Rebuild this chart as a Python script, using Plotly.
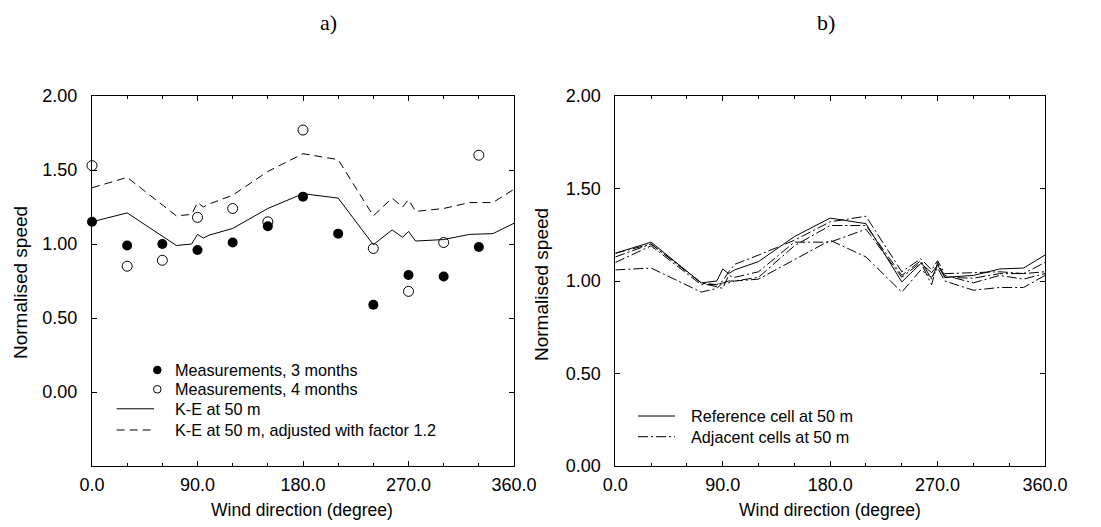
import plotly.graph_objects as go

# ---- data ----
MEAS_DIR = [0, 30, 60, 90, 120, 150, 180, 210, 240, 270, 300, 330]
MEAS_3M = [1.15, 0.99, 1.00, 0.96, 1.01, 1.12, 1.32, 1.07, 0.59, 0.79, 0.78, 0.98]
MEAS_4M_DIR = [0, 30, 60, 90, 120, 150, 180, 240, 270, 300, 330]
MEAS_4M = [1.53, 0.85, 0.89, 1.18, 1.24, 1.15, 1.77, 0.97, 0.68, 1.01, 1.60]

KE_DIR = [0, 30, 72, 85, 90, 95, 100, 120, 150, 180, 210, 240, 256, 265, 270, 276, 300, 322, 342, 360]
KE_50 = [1.15, 1.21, 0.99, 1.00, 1.065, 1.04, 1.06, 1.105, 1.24, 1.34, 1.31, 0.995, 1.095, 1.045, 1.085, 1.02, 1.03, 1.065, 1.07, 1.14]
KE_50_ADJ = [1.38, 1.45, 1.19, 1.20, 1.28, 1.25, 1.27, 1.33, 1.49, 1.61, 1.57, 1.19, 1.31, 1.25, 1.30, 1.22, 1.24, 1.28, 1.28, 1.37]

ADJ_A = [1.15, 1.20, 0.99, 0.98, 1.00, 1.05, 1.09, 1.14, 1.22, 1.32, 1.35, 1.05, 1.12, 1.06, 1.11, 1.04, 1.045, 1.05, 1.04, 1.10]
ADJ_B = [1.13, 1.20, 0.99, 0.97, 0.96, 1.03, 1.02, 1.05, 1.21, 1.21, 1.28, 1.02, 1.10, 0.98, 1.10, 1.02, 1.015, 1.04, 1.04, 1.05]
ADJ_C = [1.10, 1.19, 0.98, 0.98, 0.99, 1.00, 1.00, 1.02, 1.19, 1.30, 1.30, 1.03, 1.11, 1.01, 1.09, 1.03, 0.99, 1.03, 1.01, 1.04]
ADJ_D = [1.06, 1.07, 0.94, 0.96, 0.99, 0.99, 1.00, 1.01, 1.115, 1.22, 1.13, 0.94, 1.06, 1.02, 1.07, 1.00, 0.95, 0.965, 0.965, 1.03]
ADJACENT = [ADJ_A, ADJ_B, ADJ_C, ADJ_D]

X_TICKS = [0, 90, 180, 270, 360]
Y_TICKS = [0.0, 0.5, 1.0, 1.5, 2.0]

W, H = 1101, 527
SANS = "Liberation Sans, Arial, sans-serif"
DASH = "8px,5px"
DASHDOT = "10px,3px,2px,3px"

fig = go.Figure()

# panel a
fig.add_trace(go.Scatter(x=KE_DIR, y=KE_50, mode="lines", line=dict(color="black", width=1),
                         xaxis="x", yaxis="y", showlegend=False))
fig.add_trace(go.Scatter(x=KE_DIR, y=KE_50_ADJ, mode="lines", line=dict(color="black", width=1, dash=DASH),
                         xaxis="x", yaxis="y", showlegend=False))
fig.add_trace(go.Scatter(x=MEAS_DIR, y=MEAS_3M, mode="markers", cliponaxis=False,
                         marker=dict(symbol="circle", size=10, color="black"),
                         xaxis="x", yaxis="y", showlegend=False))
fig.add_trace(go.Scatter(x=MEAS_4M_DIR, y=MEAS_4M, mode="markers", cliponaxis=False,
                         marker=dict(symbol="circle-open", size=10, color="black", line=dict(width=1)),
                         xaxis="x", yaxis="y", showlegend=False))

# panel b
for series in ADJACENT:
    fig.add_trace(go.Scatter(x=KE_DIR, y=series, mode="lines",
                             line=dict(color="black", width=1, dash=DASHDOT),
                             xaxis="x2", yaxis="y2", showlegend=False))
fig.add_trace(go.Scatter(x=KE_DIR, y=KE_50, mode="lines", line=dict(color="black", width=1),
                         xaxis="x2", yaxis="y2", showlegend=False))

common_x = dict(range=[0, 360], tickvals=X_TICKS, tickformat=".1f", ticks="inside", ticklen=5,
                tickcolor="black", showline=True, linecolor="black", linewidth=1, mirror="ticks",
                showgrid=False, zeroline=False, automargin=False,
                tickfont=dict(family=SANS, size=18, color="black"),
                minor=dict(dtick=30, ticks="inside", ticklen=3, tickcolor="black", showgrid=False),
                ticklabelstandoff=2)
common_y = dict(tickvals=Y_TICKS, tickformat=".2f", ticks="inside", ticklen=5, tickcolor="black",
                showline=True, linecolor="black", linewidth=1, mirror="ticks", showgrid=False,
                zeroline=False, automargin=False,
                tickfont=dict(family=SANS, size=18, color="black"),
                ticklabelstandoff=10)

y_dom = [1 - 466 / H, 1 - 96 / H]
fig.update_layout(
    width=W, height=H, margin=dict(l=0, r=0, t=0, b=0, autoexpand=False),
    paper_bgcolor="white", plot_bgcolor="white",
    xaxis=dict(domain=[92 / W, 514 / W], anchor="y", **common_x),
    yaxis=dict(domain=y_dom, range=[-0.5, 2.0], anchor="x", **common_y),
    xaxis2=dict(domain=[615.3 / W, 1045 / W], anchor="y2", **common_x),
    yaxis2=dict(domain=y_dom, range=[0, 2.0], anchor="x2", **common_y),
    showlegend=False,
)

annotations = []
shapes = []


def px(xp):
    return xp / W


def py(yp):
    return 1 - yp / H


def text(xp, yp, s, size, family=SANS, xanchor="center", angle=0):
    annotations.append(dict(x=px(xp), y=py(yp), xref="paper", yref="paper", text=s, showarrow=False,
                            xanchor=xanchor, yanchor="middle", textangle=angle,
                            font=dict(family=family, size=size, color="black")))


# panel labels
text(328, 22, "a)", 22, family="Liberation Serif, DejaVu Serif, serif")
text(826, 22, "b)", 22, family="Liberation Serif, DejaVu Serif, serif")

# axis titles
text(302, 510, "Wind direction (degree)", 17.5)
text(830, 510, "Wind direction (degree)", 17.5)
text(20, 283, "Normalised speed", 19, angle=-90)
text(541, 285, "Normalised speed", 19, angle=-90)

# legend, panel a
LEG_FONT = 16.2
legend_a = [("Measurements, 3 months", 370, "filled"),
            ("Measurements, 4 months", 389.3, "open"),
            ("K-E at 50 m", 408.8, "solid"),
            ("K-E at 50 m, adjusted with factor 1.2", 430, DASH)]
for label, yy, kind in legend_a:
    if kind in ("filled", "open"):
        shapes.append(dict(type="circle", xref="paper", yref="paper", xsizemode="pixel", ysizemode="pixel",
                           xanchor=px(157.3), yanchor=py(yy), x0=-3.8, x1=3.8, y0=-3.8, y1=3.8,
                           fillcolor="black" if kind == "filled" else "white",
                           line=dict(color="black", width=1)))
    else:
        shapes.append(dict(type="line", xref="paper", yref="paper", x0=px(116.7), x1=px(154), y0=py(yy), y1=py(yy),
                           line=dict(color="black", width=1, dash=kind)))
    text(173, yy, label, LEG_FONT, xanchor="left")

# legend, panel b
legend_b = [("Reference cell at 50 m", 416, "solid"),
            ("Adjacent cells at 50 m", 436.7, DASHDOT)]
for label, yy, kind in legend_b:
    shapes.append(dict(type="line", xref="paper", yref="paper", x0=px(638), x1=px(675), y0=py(yy), y1=py(yy),
                       line=dict(color="black", width=1, dash=kind)))
    text(689, yy, label, LEG_FONT, xanchor="left")

fig.update_layout(annotations=annotations, shapes=shapes)
fig.write_html("out.html")
